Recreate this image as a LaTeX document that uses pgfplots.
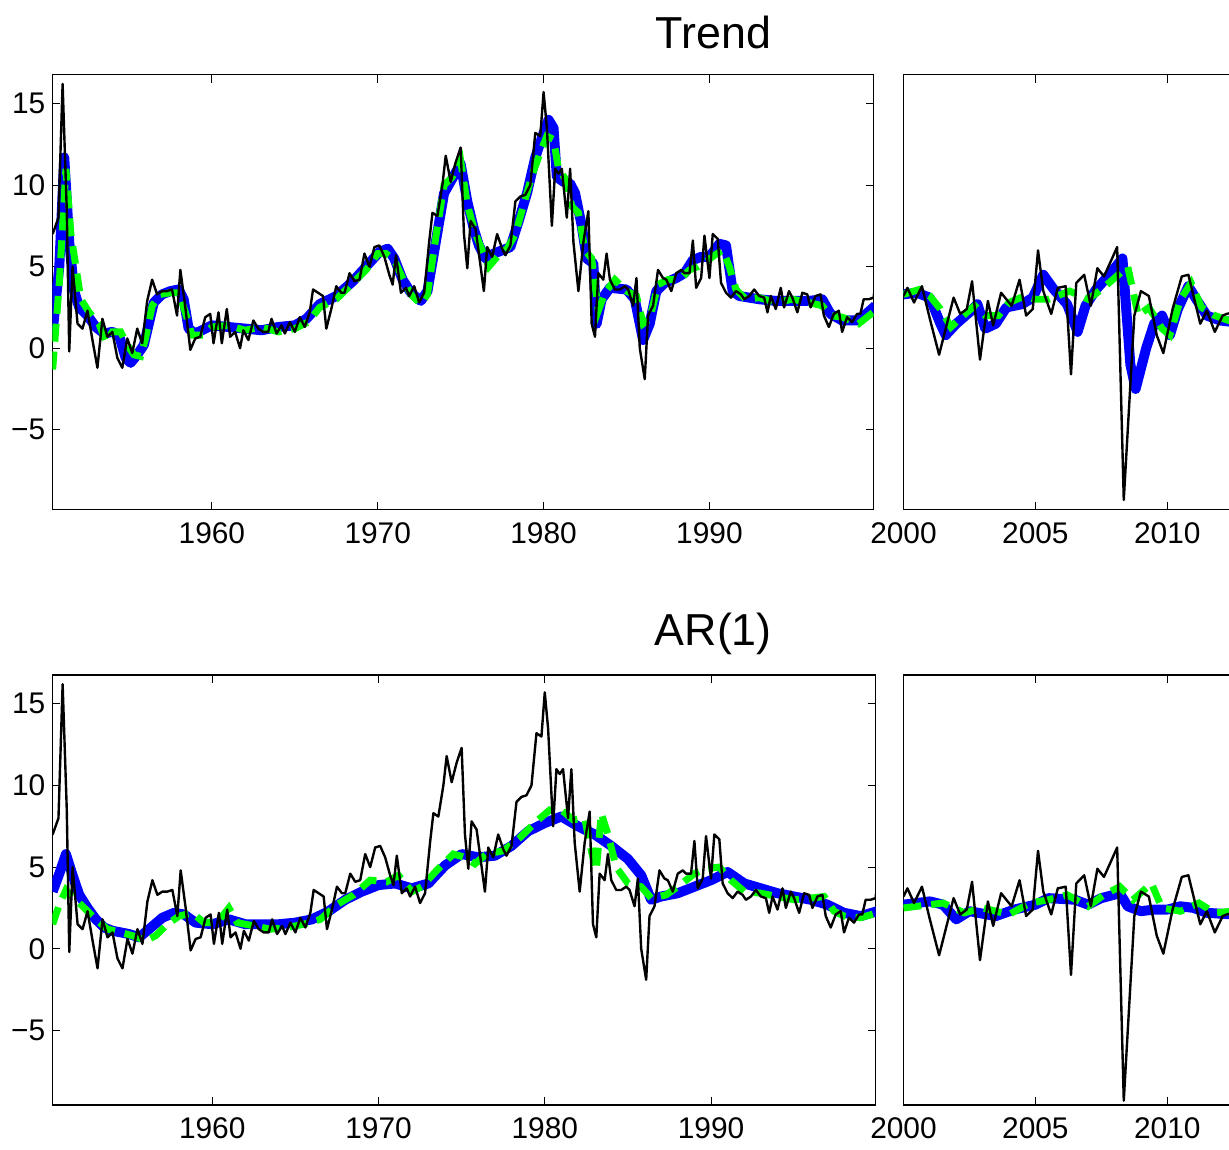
\documentclass[border=0pt]{standalone}
\usepackage{pgfplots}
\pgfplotsset{compat=1.18}
\usepackage{fontspec}
\setmainfont{Liberation Sans}
\begin{document}
\pgfplotsset{
 base/.style={scale only axis, anchor=south west, tick align=inside, tick pos=both,
  major tick length=4pt, tick style={black, line width=0.5pt}, axis line style={line width=0.6pt},
  ticklabel style={font=\fontsize{15}{17}\selectfont}, xticklabel style={yshift=-3pt}, clip=true},
 L/.style={base, xmin=1950.38, xmax=1999.9, xtick={1960,1970,1980,1990},
  xticklabels={1960,1970,1980,1990}, ytick={-5,0,5,10,15}, yticklabels={−5,0,5,10,15}},
 R/.style={base, xmin=2000, xmax=2013, width=172.25pt, xtick={2000,2005,2010},
  xticklabels={2000,2005,2010}, ytick=\empty},
 bl/.style={blue, line width=5pt, line join=round},
 gr/.style={green, line width=3.5pt, dash pattern=on 9pt off 5pt},
 bk/.style={black, line width=1.2pt, line join=round}
}
\pgfplotstableread{
x y
1950.4 7.0
1950.75 8.0
1951.0 16.2
1951.25 8.5
1951.4 -0.2
1951.6 5.0
1951.9 1.5
1952.2 1.2
1952.5 2.3
1952.8 0.5
1953.1 -1.2
1953.4 1.8
1953.7 0.7
1954.0 1.0
1954.3 -0.6
1954.6 -1.2
1954.9 0.6
1955.2 -0.3
1955.5 1.2
1955.8 0.3
1956.1 2.9
1956.4 4.2
1956.7 3.3
1957.0 3.5
1957.3 3.5
1957.6 3.6
1957.9 2.0
1958.1 4.8
1958.4 2.5
1958.7 -0.1
1959.0 0.6
1959.3 0.7
1959.6 1.9
1959.9 2.1
1960.1 0.3
1960.4 2.2
1960.6 0.3
1960.9 2.4
1961.1 0.7
1961.4 1.0
1961.7 0.0
1961.9 1.1
1962.2 0.5
1962.5 1.7
1962.8 1.2
1963.1 1.0
1963.4 1.0
1963.6 1.8
1963.9 0.9
1964.2 1.4
1964.4 0.9
1964.7 1.6
1965.0 1.0
1965.3 1.9
1965.6 1.3
1965.9 2.2
1966.1 3.6
1966.4 3.4
1966.7 3.2
1966.9 1.2
1967.2 2.4
1967.5 3.8
1967.8 3.4
1968.0 3.4
1968.3 4.6
1968.6 4.1
1968.9 4.2
1969.2 5.8
1969.5 5.0
1969.8 6.2
1970.1 6.3
1970.4 5.6
1970.7 4.5
1970.9 3.9
1971.1 5.7
1971.4 3.4
1971.7 3.7
1971.9 3.2
1972.2 3.8
1972.5 2.8
1972.8 3.4
1973.1 6.5
1973.3 8.3
1973.6 8.1
1973.9 10.0
1974.1 11.8
1974.4 10.2
1974.7 11.4
1975.0 12.3
1975.2 7.0
1975.4 4.9
1975.6 7.8
1975.9 7.3
1976.1 5.8
1976.4 3.5
1976.6 6.2
1976.9 5.6
1977.2 7.0
1977.5 6.1
1977.7 5.7
1978.0 6.3
1978.3 9.0
1978.6 9.3
1978.9 9.4
1979.2 10.0
1979.5 13.2
1979.8 13.0
1980.0 15.7
1980.2 13.5
1980.5 7.5
1980.7 11.0
1980.9 10.7
1981.1 11.0
1981.4 8.0
1981.6 11.0
1981.8 6.5
1982.1 3.5
1982.4 6.5
1982.7 8.4
1982.9 1.5
1983.1 0.7
1983.3 4.6
1983.6 4.2
1983.8 5.8
1984.0 4.2
1984.3 3.6
1984.6 3.6
1984.9 3.8
1985.1 3.6
1985.4 2.6
1985.6 4.3
1985.8 0.0
1986.1 -1.9
1986.3 2.0
1986.6 2.6
1986.9 4.8
1987.2 4.3
1987.4 4.2
1987.7 3.5
1988.0 4.6
1988.3 4.8
1988.5 4.6
1988.8 4.6
1989.0 6.6
1989.2 3.7
1989.5 4.3
1989.7 6.9
1990.0 4.3
1990.2 7.0
1990.5 6.7
1990.7 4.0
1991.0 3.4
1991.3 3.1
1991.6 3.5
1991.9 3.3
1992.1 3.0
1992.4 3.2
1992.7 3.6
1993.0 3.2
1993.3 3.1
1993.5 2.2
1993.7 3.2
1994.0 2.4
1994.3 3.7
1994.5 2.5
1994.8 3.5
1995.0 3.1
1995.3 2.2
1995.6 3.4
1995.9 3.3
1996.1 2.5
1996.4 3.2
1996.7 3.3
1996.9 2.0
1997.2 1.3
1997.5 2.1
1997.8 2.3
1998.0 1.0
1998.3 1.9
1998.6 1.6
1998.9 2.1
1999.1 2.1
1999.3 3.0
1999.6 3.0
1999.9 3.1
2000.0 4.0
}\blackL
\pgfplotstableread{
x y
2000.0 3.2
2000.15 3.7
2000.4 2.8
2000.7 3.8
2001.0 1.8
2001.35 -0.4
2001.9 3.1
2002.15 2.1
2002.4 2.4
2002.6 4.1
2002.9 -0.7
2003.2 2.9
2003.4 1.4
2003.7 3.4
2004.1 2.6
2004.4 4.2
2004.65 2.0
2004.9 2.4
2005.1 6.0
2005.3 3.5
2005.6 2.1
2005.85 3.7
2006.15 3.8
2006.35 -1.6
2006.55 4.0
2006.85 4.5
2007.1 2.6
2007.35 4.9
2007.6 4.4
2008.1 6.2
2008.35 -9.3
2008.75 2.0
2009.0 3.5
2009.3 3.2
2009.6 0.8
2009.85 -0.3
2010.2 2.4
2010.55 4.4
2010.8 4.5
2011.25 1.5
2011.5 2.3
2011.8 1.0
2012.1 2.0
2012.25 2.1
2012.5 2.2
}\blackR
\begin{tikzpicture}
\path[use as bounding box, clip] (0,0) rectangle (614.5pt,577.5pt);
\node[font=\fontsize{22.5}{24}\selectfont] at (355.5pt,561pt) {Trend};
\node[font=\fontsize{22.5}{24}\selectfont] at (355.5pt,259pt) {AR(1)};
% top left
\begin{axis}[L, at={(23.5pt,321.5pt)}, width=412.5pt, height=218.5pt, ymin=-9.9, ymax=16.77]
\addplot[bl] coordinates {(1950.4,1.0)(1950.8,5)(1951.1,11.7)(1951.4,6.5)(1951.7,3.5)(1952.0,2.5)(1952.5,2.0)(1953.0,1.3)(1953.5,0.9)(1954.0,1.0)(1954.4,0.8)(1954.8,-0.6)(1955.1,-0.9)(1955.5,-0.4)(1955.9,0.2)(1956.2,1.5)(1956.5,2.8)(1957.0,3.3)(1957.5,3.5)(1958.0,3.6)(1958.3,3.0)(1958.6,1.2)(1959.0,0.9)(1960,1.4)(1961,1.3)(1962,1.2)(1963,1.1)(1964,1.3)(1965,1.4)(1965.7,1.8)(1966.5,2.7)(1967.5,3.2)(1968.5,4.1)(1969.3,5.0)(1970.1,5.9)(1970.6,6.1)(1971,5.5)(1971.5,4.2)(1972.0,3.4)(1972.6,2.9)(1973.0,3.5)(1973.5,6.5)(1974.0,9.5)(1974.5,10.4)(1975.0,11.3)(1975.4,9.0)(1975.8,7.3)(1976.1,6.3)(1976.5,5.5)(1977,5.8)(1977.5,6.0)(1978.0,6.2)(1978.5,7.8)(1979.0,9.5)(1979.5,11.7)(1980.0,13.2)(1980.3,14.0)(1980.6,13.5)(1980.8,10.5)(1981.2,10.2)(1981.6,10.1)(1981.9,9.5)(1982.3,7.5)(1982.6,5.5)(1983.0,5.2)(1983.2,1.5)(1983.5,3.0)(1984,3.7)(1985,3.6)(1985.5,3.0)(1986.0,0.5)(1986.4,1.5)(1986.8,3.5)(1987.3,4.0)(1988,4.3)(1988.5,4.6)(1989,5.4)(1989.5,5.6)(1990,5.6)(1990.6,6.4)(1991.0,6.3)(1991.4,3.5)(1991.8,3.2)(1993,3.0)(1994,2.9)(1995,2.9)(1996,2.9)(1996.8,3.0)(1997.3,2.1)(1998,1.7)(1999,1.7)(2000,2.6)};
\addplot[gr] coordinates {(1950.4,-1.3)(1950.8,4)(1951.2,11.0)(1951.5,7.0)(1951.8,5.0)(1952.1,3.0)(1952.6,2.2)(1953.2,1.5)(1953.6,0.4)(1954.0,1.0)(1954.5,1.0)(1954.9,0.2)(1955.3,-0.4)(1955.7,-0.5)(1956.0,0.6)(1956.4,2.6)(1956.9,3.3)(1957.5,3.4)(1958.0,3.4)(1958.4,2.2)(1958.8,0.8)(1959.5,0.8)(1960,1.3)(1961,1.4)(1962,1.1)(1963,1.3)(1964,1.0)(1965,1.2)(1965.8,1.6)(1966.5,2.5)(1967.5,3.0)(1968.5,4.0)(1969.3,4.8)(1970.0,5.8)(1970.5,5.8)(1971,5.4)(1971.5,4.3)(1972.0,3.3)(1972.6,2.7)(1973.0,3.3)(1973.5,6.8)(1974.0,10.0)(1974.5,10.5)(1975.0,11.5)(1975.4,8.8)(1975.9,7.0)(1976.3,6.0)(1976.7,5.0)(1977.2,5.6)(1977.8,6.1)(1978.3,7.0)(1978.8,8.8)(1979.3,10.6)(1979.8,12.0)(1980.2,13.0)(1980.6,12.8)(1980.9,11.0)(1981.3,10.4)(1981.7,8.7)(1982.1,8.3)(1982.5,6.0)(1982.9,5.5)(1983.3,2.3)(1983.7,3.4)(1984.3,4.2)(1985,3.5)(1985.6,3.2)(1986.0,1.5)(1986.4,1.8)(1986.9,3.9)(1987.5,4.2)(1988.2,4.2)(1988.8,4.8)(1989.3,5.0)(1989.8,5.3)(1990.3,5.7)(1990.8,6.0)(1991.2,5.0)(1991.6,3.6)(1992.2,3.0)(1993,3.1)(1994,2.8)(1995,3.0)(1996,2.8)(1996.8,2.6)(1997.3,2.0)(1998,1.9)(1999,1.5)(2000,2.3)};
\addplot[bk] table {\blackL};
\end{axis}
% top right
\begin{axis}[R, at={(451pt,321.5pt)}, height=218.5pt, ymin=-9.9, ymax=16.77]
\addplot[bl] coordinates {(2000,3.3)(2000.5,3.4)(2001,3.1)(2001.4,1.5)(2001.6,0.8)(2002,1.5)(2002.5,2.2)(2002.8,2.7)(2003.1,1.2)(2003.5,1.5)(2003.9,2.5)(2004.5,2.7)(2004.9,3.1)(2005.3,4.5)(2005.7,3.6)(2006.2,2.7)(2006.6,1.0)(2006.9,2.6)(2007.3,3.6)(2007.8,4.5)(2008.3,5.5)(2008.6,-1.0)(2008.8,-2.5)(2009.2,0.0)(2009.5,1.5)(2009.8,2.0)(2010.1,0.8)(2010.4,2.4)(2010.8,3.8)(2011.1,3.0)(2011.5,2.0)(2012,1.7)(2012.5,1.6)};
\addplot[gr] coordinates {(2000,3.3)(2000.6,3.6)(2001,3.2)(2001.4,2.4)(2001.8,1.3)(2002.4,2.2)(2002.7,2.6)(2003.1,2.0)(2003.6,2.0)(2004,2.8)(2004.6,3.2)(2005,3.0)(2005.5,3.0)(2006.3,3.5)(2007.0,3.0)(2007.5,3.6)(2008.0,4.3)(2008.5,5.0)(2008.9,2.0)(2009.3,2.5)(2009.8,1.2)(2010.1,0.8)(2010.5,3.0)(2010.9,4.0)(2011.3,2.5)(2011.8,2.0)(2012.5,1.6)};
\addplot[bk] table {\blackR};
\end{axis}
% bottom left
\begin{axis}[L, at={(23.5pt,22.5pt)}, width=413.5pt, height=216pt, ymin=-9.57, ymax=16.77]
\addplot[bl] coordinates {(1950.4,3.5)(1950.8,4.6)(1951.2,5.8)(1951.6,4.5)(1952.0,3.3)(1952.5,2.5)(1953,1.8)(1953.5,1.3)(1954,1.1)(1955,0.9)(1955.6,0.7)(1956.2,1.2)(1957,1.9)(1957.7,2.2)(1958.3,2.1)(1959,1.6)(1960,1.5)(1961,1.8)(1962,1.5)(1963,1.5)(1964,1.5)(1965,1.6)(1966,1.8)(1967,2.3)(1968,3.0)(1969,3.5)(1970,3.9)(1971,4.0)(1972,3.7)(1973,4.0)(1974,5.1)(1975,5.8)(1976,5.6)(1977,5.7)(1978,6.3)(1979,7.2)(1980,7.7)(1981,8.1)(1982,7.5)(1983,7.0)(1984,6.3)(1985,5.5)(1985.8,4.5)(1986.4,3.0)(1987,3.2)(1988,3.4)(1989,3.8)(1990,4.2)(1991,4.7)(1992,4.0)(1993,3.7)(1994,3.4)(1995,3.2)(1996,3.0)(1997,2.7)(1998,2.2)(1999,2.0)(2000,2.3)};
\addplot[gr] coordinates {(1950.4,1.5)(1950.8,2.7)(1951.2,3.6)(1951.8,3.0)(1952.5,2.3)(1953,1.8)(1953.7,1.2)(1954.5,1.0)(1955.2,0.8)(1956,0.5)(1956.6,0.8)(1957.3,1.5)(1958,2.0)(1958.8,2.2)(1959.5,1.6)(1960.3,1.6)(1961.0,2.5)(1961.5,1.6)(1962.5,1.4)(1963.5,1.2)(1964.5,1.3)(1965.5,1.5)(1966.5,1.8)(1967.5,2.7)(1968.5,3.3)(1969.5,4.2)(1970.5,4.1)(1971.2,4.5)(1972.0,3.5)(1972.6,3.8)(1973.5,4.8)(1974.5,5.8)(1975.2,5.6)(1975.8,5.2)(1976.5,5.8)(1977.5,6.0)(1978.5,6.8)(1979.5,7.8)(1980.3,8.5)(1981.0,8.5)(1981.7,7.9)(1982.4,8.0)(1982.8,6.0)(1983.1,4.8)(1983.4,8.3)(1983.8,7.0)(1984.3,5.0)(1985,4.0)(1985.8,3.8)(1986.4,3.1)(1987.3,3.3)(1988,3.8)(1989,4.6)(1989.7,4.9)(1990.5,5.0)(1991.2,4.2)(1992,3.5)(1993,3.4)(1994,3.2)(1995,3.0)(1996,3.1)(1996.8,3.2)(1997.4,2.3)(1998,2.0)(1999,1.9)(2000,2.2)};
\addplot[bk] table {\blackL};
\end{axis}
% bottom right
\begin{axis}[R, at={(451pt,22.5pt)}, height=216pt, ymin=-9.57, ymax=16.77]
\addplot[bl] coordinates {(2000,2.7)(2001,2.9)(2001.5,2.7)(2002,1.8)(2002.5,2.3)(2003.5,2.0)(2004.2,2.4)(2005,2.7)(2005.5,3.1)(2006.5,3.0)(2007,2.7)(2007.5,3.1)(2008.2,3.4)(2008.5,2.6)(2009,2.3)(2009.5,2.4)(2010,2.4)(2010.5,2.6)(2011,2.5)(2011.5,2.2)(2012.5,2.1)};
\addplot[gr] coordinates {(2000,2.5)(2001,2.7)(2001.5,2.8)(2002.3,2.2)(2003,2.5)(2004,2.1)(2004.8,2.8)(2005.5,3.0)(2006.2,3.3)(2007,2.6)(2007.6,3.3)(2008.2,3.8)(2008.7,3.0)(2009.4,4.0)(2009.8,2.5)(2010.5,2.3)(2011.2,2.8)(2011.8,2.2)(2012.5,2.3)};
\addplot[bk] table {\blackR};
\end{axis}
\end{tikzpicture}
\end{document}
